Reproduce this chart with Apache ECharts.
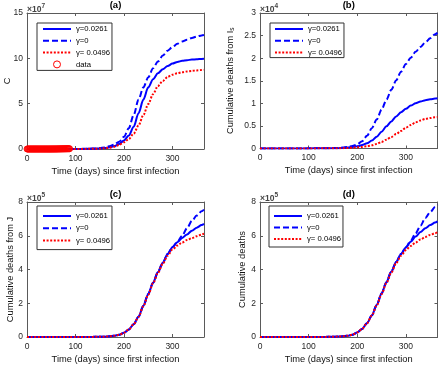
<!DOCTYPE html>
<html><head><meta charset="utf-8">
<script src="https://cdn.jsdelivr.net/npm/echarts/dist/echarts.min.js"></script>
<style>html,body{margin:0;padding:0;background:#fff}#c{width:440px;height:366px}</style>
</head><body><div id="c"></div>
<script>
const DAYS = [0,10,20,30,40,50,60,70,80,90,100,110,120,130,140,150,160,170,180,190,200,210,220,230,240,250,260,270,280,290,300,310,320,330,340,350,360,365];
const NAMES = ['γ=0.0261','γ=0','γ= 0.0496','data'];
const X_TICKS = [0,100,200,300];

// (a) C, x10^7
const A_SOLID = [0,0,0,0,0,0,0.001,0.001,0.002,0.003,0.005,0.008,0.012,0.02,0.035,0.06,0.1,0.18,0.32,0.55,0.95,1.5,2.45,3.95,5.45,6.8,7.7,8.35,8.8,9.15,9.42,9.6,9.72,9.8,9.86,9.9,9.94,9.95];
const A_DASH  = [0,0,0,0,0,0,0.001,0.001,0.002,0.004,0.007,0.012,0.02,0.035,0.06,0.1,0.17,0.3,0.5,0.8,1.35,2.3,3.75,5.45,6.8,7.9,8.9,9.65,10.3,10.85,11.25,11.6,11.85,12.05,12.25,12.4,12.53,12.58];
const A_DOT   = [0,0,0,0,0,0,0.001,0.001,0.002,0.003,0.004,0.006,0.01,0.016,0.028,0.05,0.085,0.15,0.26,0.45,0.75,1.1,1.7,2.6,3.75,4.95,6.05,6.95,7.5,7.95,8.2,8.35,8.47,8.55,8.62,8.67,8.71,8.73];
const DATA_DAYS = [0,1,2,3,4,5,6,7,8,9,10,11,12,13,14,15,16,17,18,19,20,21,22,23,24,25,26,27,28,29,30,31,32,33,34,35,36,37,38,39,40,41,42,43,44,45,46,47,48,49,50,51,52,53,54,55,56,57,58,59,60,61,62,63,64,65,66,67,68,69,70,71,72,73,74,75,76,77,78,79,80,81,82,83,84,85,86,87,88];
const DATA_C = [0,0,0,0,0,0,0,0,0,0,0,0,0,0,0,0,0,0,0,0,0,0,0,0,0,0,0,0,0,0,0,0,0,0,0,0,0,0,0,0,0,0,0,0,0,0,0,0,0,0,0.001,0.001,0.001,0.001,0.001,0.002,0.002,0.002,0.003,0.003,0.004,0.004,0.005,0.006,0.007,0.008,0.009,0.01,0.011,0.012,0.013,0.014,0.015,0.016,0.017,0.018,0.019,0.02,0.021,0.022,0.023,0.024,0.025,0.026,0.027,0.028,0.029,0.03,0.031];

// (b) deaths from Is, x10^4
const B_SOLID = [0,0,0,0,0,0.001,0.001,0.001,0.002,0.002,0.002,0.003,0.003,0.004,0.005,0.006,0.008,0.012,0.02,0.032,0.05,0.075,0.115,0.175,0.26,0.37,0.49,0.6,0.71,0.8,0.88,0.95,1.0,1.04,1.07,1.09,1.105,1.11];
const B_DASH  = [0,0,0,0,0,0.001,0.001,0.001,0.002,0.002,0.003,0.003,0.004,0.005,0.007,0.009,0.013,0.02,0.032,0.055,0.09,0.16,0.28,0.45,0.64,0.86,1.08,1.3,1.51,1.7,1.87,2.01,2.14,2.25,2.35,2.44,2.53,2.56];
const B_DOT   = [0,0,0,0,0,0.001,0.001,0.001,0.002,0.002,0.002,0.002,0.003,0.003,0.004,0.005,0.006,0.008,0.012,0.018,0.025,0.035,0.05,0.07,0.1,0.145,0.195,0.255,0.32,0.39,0.46,0.52,0.58,0.62,0.655,0.675,0.69,0.695];

// (c) deaths from J, x10^5
const C_SOLID = [0,0,0,0,0,0,0,0,0,0,0.001,0.002,0.003,0.005,0.008,0.013,0.022,0.04,0.07,0.13,0.25,0.45,0.76,1.2,1.85,2.55,3.22,3.85,4.4,4.92,5.32,5.62,5.87,6.08,6.3,6.48,6.63,6.7];
const C_DASH  = [0,0,0,0,0,0,0,0,0,0,0.001,0.002,0.003,0.005,0.008,0.013,0.022,0.04,0.07,0.13,0.25,0.45,0.76,1.2,1.85,2.55,3.22,3.85,4.4,4.92,5.33,5.64,6.0,6.45,6.88,7.2,7.45,7.55];
const C_DOT   = [0,0,0,0,0,0,0,0,0,0,0.001,0.002,0.003,0.005,0.008,0.013,0.022,0.04,0.07,0.13,0.25,0.45,0.76,1.19,1.82,2.5,3.18,3.8,4.34,4.82,5.18,5.42,5.6,5.75,5.86,5.97,6.07,6.12];

// (d) cumulative deaths, x10^5
const D_SOLID = [0,0,0,0,0,0,0,0,0,0,0.001,0.002,0.003,0.005,0.008,0.014,0.023,0.042,0.075,0.14,0.27,0.48,0.82,1.28,1.9,2.58,3.25,3.88,4.45,4.92,5.3,5.65,5.95,6.22,6.45,6.63,6.78,6.85];
const D_DASH  = [0,0,0,0,0,0,0,0,0,0,0.001,0.002,0.003,0.005,0.008,0.014,0.023,0.042,0.075,0.14,0.27,0.48,0.82,1.28,1.9,2.58,3.25,3.88,4.45,4.92,5.32,5.72,6.14,6.6,7.05,7.4,7.7,7.85];
const D_DOT   = [0,0,0,0,0,0,0,0,0,0,0.001,0.002,0.003,0.005,0.008,0.014,0.023,0.042,0.075,0.14,0.27,0.48,0.82,1.27,1.87,2.54,3.2,3.82,4.38,4.82,5.15,5.4,5.6,5.78,5.93,6.05,6.15,6.2];

const Y_A = [0,5,10,15];
const Y_B = [0,0.5,1,1.5,2,2.5,3];
const Y_CD = [0,2,4,6,8];

const FONT = '"Liberation Sans", Arial, Helvetica, sans-serif';
const AXC = '#5a5a5a';
const TXC = '#262626';

const panels = [
  {grid:{left:27, top:13, width:177, height:136}, yTicks:Y_A, exp:'7', title:'(a)', yName:'C', nameGap:15,
   series:[A_SOLID,A_DASH,A_DOT], data:true, legend:{left:37, top:23, padding:[2,2,2,5], gap:3.8}},
  {grid:{left:260, top:13, width:177.5, height:135.5}, yTicks:Y_B, exp:'4', title:'(b)', yName:'Cumulative deaths from I{s|s}', nameGap:24,
   series:[B_SOLID,B_DASH,B_DOT], data:false, legend:{left:270, top:23, padding:[2,2,1,4], gap:3.8}},
  {grid:{left:27, top:202, width:177, height:135}, yTicks:Y_CD, exp:'5', title:'(c)', yName:'Cumulative deaths from J', nameGap:12,
   series:[C_SOLID,C_DASH,C_DOT], data:false, legend:{left:37, top:206, padding:[6,2,5,5], gap:4.3}},
  {grid:{left:260, top:202, width:177.5, height:135}, yTicks:Y_CD, exp:'5', title:'(d)', yName:'Cumulative deaths', nameGap:13,
   series:[D_SOLID,D_DASH,D_DOT], data:false, legend:{left:269, top:206, padding:[6,2,4,4], gap:3.5}}
];

const STY = [
  {color:'#0000ff', type:'solid'},
  {color:'#0000ff', type:[6,3]},
  {color:'#ff0000', type:[2,1.6]}
];

const grids=[], xAxes=[], yAxes=[], series=[], legends=[], titles=[];
panels.forEach((p,gi)=>{
  grids.push(Object.assign({outerBoundsMode:'none', containLabel:false}, p.grid));
  const axLine = {show:true, onZero:false, lineStyle:{color:AXC, width:1}};
  const tick = {show:true, inside:true, length:3, lineStyle:{color:AXC, width:1}};
  const yt = p.yTicks;
  const yInt = yt[1]-yt[0];
  xAxes.push({gridIndex:gi, type:'value', min:X_TICKS[0], max:365, interval:X_TICKS[1]-X_TICKS[0], position:'bottom',
    axisLine:axLine, axisTick:tick, splitLine:{show:false},
    axisLabel:{margin:5, fontSize:8.5, color:TXC, fontFamily:FONT, showMaxLabel:false},
    name:'Time (days) since first infection', nameLocation:'middle', nameGap:17.5, nameMoveOverlap:false,
    nameTextStyle:{fontSize:9.3, fontFamily:FONT, color:'#111'}});
  xAxes.push({gridIndex:gi, type:'value', min:X_TICKS[0], max:365, interval:X_TICKS[1]-X_TICKS[0], position:'top',
    axisLine:axLine, axisTick:tick, splitLine:{show:false}, axisLabel:{show:false}});
  yAxes.push({gridIndex:gi, type:'value', min:yt[0], max:yt[yt.length-1], interval:yInt, position:'left',
    axisLine:axLine, axisTick:tick, splitLine:{show:false},
    axisLabel:{margin:4, fontSize:8.5, color:TXC, fontFamily:FONT},
    name:p.yName, nameLocation:'middle', nameGap:p.nameGap, nameMoveOverlap:false,
    nameTextStyle:{fontSize:9.3, fontFamily:FONT, color:'#111',
      rich:{s:{fontSize:6.5, fontFamily:FONT, color:'#111', verticalAlign:'bottom', padding:[5,0,0,0]}}}});
  yAxes.push({gridIndex:gi, type:'value', min:yt[0], max:yt[yt.length-1], interval:yInt, position:'right',
    axisLine:axLine, axisTick:tick, splitLine:{show:false}, axisLabel:{show:false}});
  p.series.forEach((vals,k)=>{
    series.push({type:'line', name:NAMES[k], xAxisIndex:gi*2, yAxisIndex:gi*2,
      data:DAYS.map((d,i)=>[d, vals[i]]), symbol:'none', smooth:0.3, smoothMonotone:'x',
      lineStyle:{width:2, color:STY[k].color, type:STY[k].type}, itemStyle:{color:STY[k].color},
      silent:true, z:2+k});
  });
  const legData = [0,1,2].map(k=>({name:NAMES[k], itemStyle:{opacity:0}}));
  if (p.data) {
    series.push({type:'scatter', name:NAMES[3], xAxisIndex:gi*2, yAxisIndex:gi*2,
      data:DATA_DAYS.map((d,i)=>[d, DATA_C[i]]), symbol:'circle', symbolSize:6,
      itemStyle:{color:'rgba(0,0,0,0)', borderColor:'#ff0000', borderWidth:1}, silent:true, z:6});
    legData.push({name:NAMES[3], icon:'circle', itemStyle:{color:'rgba(0,0,0,0)', borderColor:'#ff0000', borderWidth:1, opacity:1}});
  }
  legends.push({left:p.legend.left, top:p.legend.top, orient:'vertical', data:legData, selectedMode:false,
    itemWidth:28, itemHeight:7, itemGap:p.legend.gap, itemTextGap:2, padding:p.legend.padding,
    borderColor:'#333', borderWidth:1, backgroundColor:'#fff',
    textStyle:{fontSize:7.7, fontFamily:FONT, color:'#000'}});
  const cx = p.grid.left + p.grid.width/2;
  titles.push({text:p.title, left:cx, top:p.grid.top-13, textAlign:'center', padding:0,
    textStyle:{fontSize:9.5, fontWeight:'bold', fontFamily:FONT, color:'#000'}});
  titles.push({text:'{a|×10}{b|'+p.exp+'}', left:p.grid.left, top:p.grid.top-10, padding:0,
    textStyle:{rich:{a:{fontSize:8.5, fontFamily:FONT, color:'#444', verticalAlign:'bottom', lineHeight:11},
                     b:{fontSize:6.5, fontFamily:FONT, color:'#444', verticalAlign:'top'}}}});
});

const chart = echarts.init(document.getElementById('c'), null, {renderer:'canvas'});
chart.setOption({animation:false, backgroundColor:'#fff', title:titles, grid:grids, xAxis:xAxes, yAxis:yAxes, legend:legends, series:series});
</script></body></html>
